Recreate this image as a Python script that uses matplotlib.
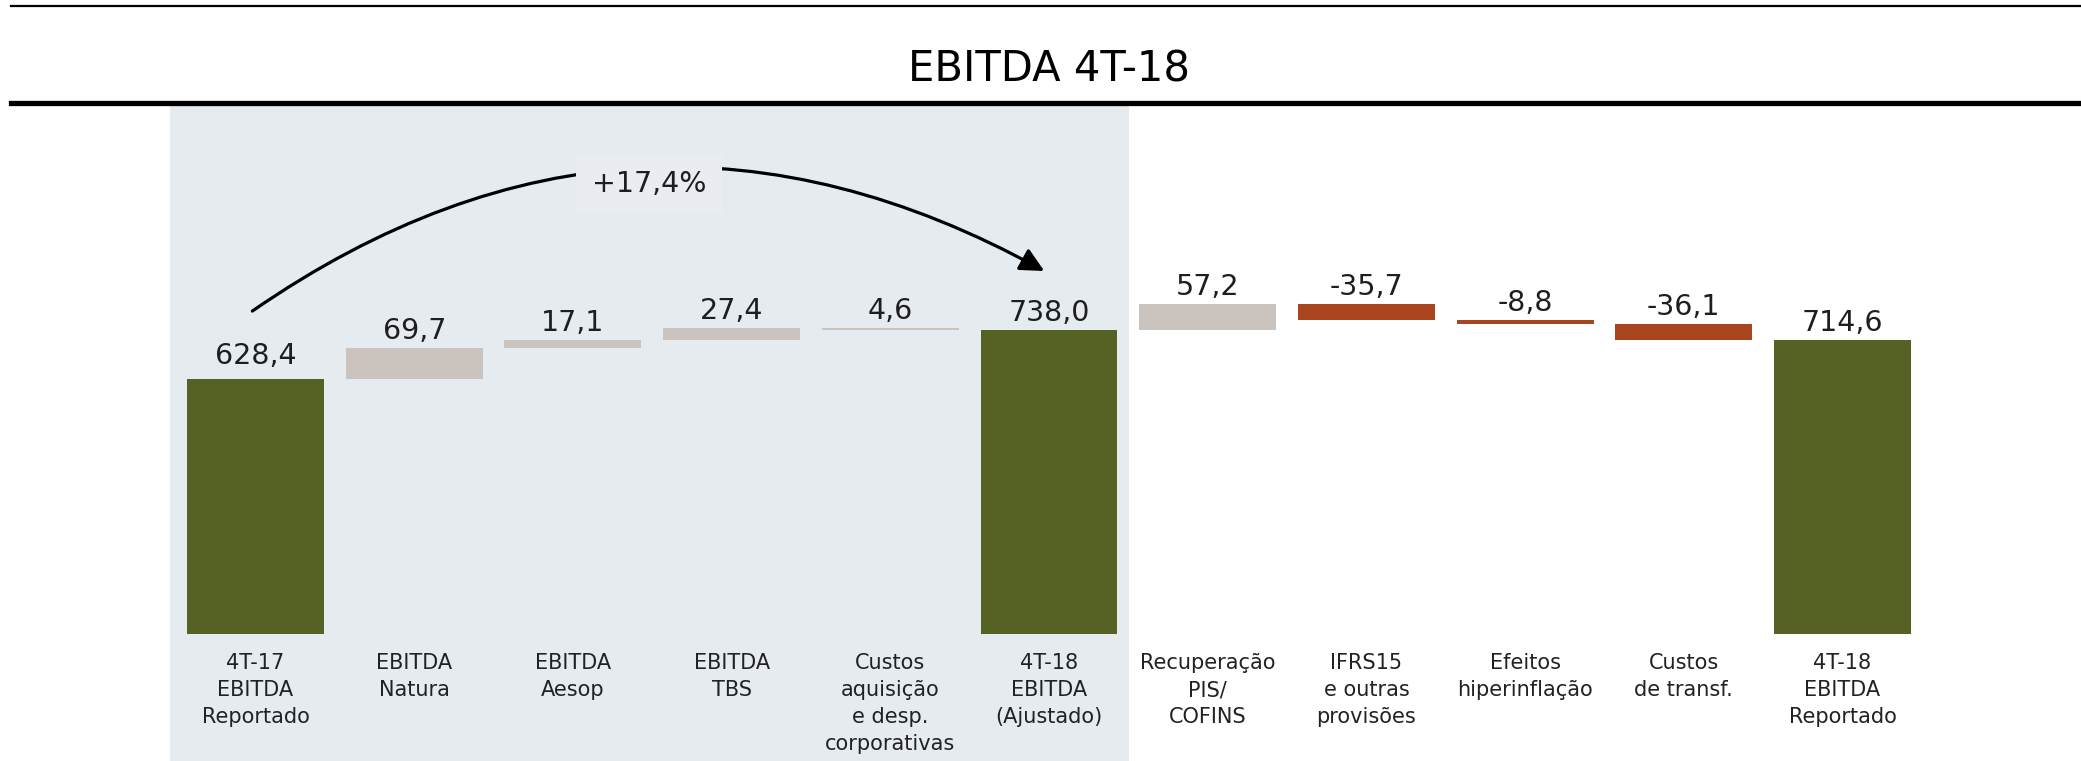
import matplotlib
matplotlib.use("Agg")
import matplotlib.pyplot as plt
from matplotlib.lines import Line2D
import numpy as np

# ---------------- data ----------------
title = "EBITDA 4T-18"
categories = [
    "4T-17\nEBITDA\nReportado",
    "EBITDA\nNatura",
    "EBITDA\nAesop",
    "EBITDA\nTBS",
    "Custos\naquisição\ne desp.\ncorporativas",
    "4T-18\nEBITDA\n(Ajustado)",
    "Recuperação\nPIS/\nCOFINS",
    "IFRS15\ne outras\nprovisões",
    "Efeitos\nhiperinflação",
    "Custos\nde transf.",
    "4T-18\nEBITDA\nReportado",
]
values = [628.4, 69.7, 17.1, 27.4, -4.6, 738.0, 57.2, -35.7, -8.8, -36.1, 714.6]
is_total = [True, False, False, False, False, True, False, False, False, False, True]
value_labels = ["628,4", "69,7", "17,1", "27,4", "4,6", "738,0",
                "57,2", "-35,7", "-8,8", "-36,1", "714,6"]
growth_label = "+17,4%"

# ---------------- style ----------------
GREEN = "#556224"
BEIGE = "#cbc3be"
RED = "#a9461f"
SHADE = "#e6ebf0"
bar_colors = [GREEN, BEIGE, BEIGE, BEIGE, BEIGE, GREEN,
              BEIGE, RED, RED, RED, GREEN]
label_gap_pt = [11, 6.5, 6.5, 6.5, 6.5, 6.5, 6.5, 6.5, 6.5, 6.5, 6.5]

W, H = 2081, 761
fig = plt.figure(figsize=(W / 100, H / 100), dpi=100)
fig.patch.set_facecolor("white")

# axes placement (pixel based)
pitch = 158.7
first_c = 255.5
xlim = (-0.6, 10.6)
ax_left_px = first_c + xlim[0] * pitch
ax_w_px = (xlim[1] - xlim[0]) * pitch
ax_bot_px = 634
ax_top_px = 160
ax = fig.add_axes([ax_left_px / W, (H - ax_bot_px) / H,
                   ax_w_px / W, (ax_bot_px - ax_top_px) / H])
ax.set_facecolor("none")

units_per_px = 2.237
ymin = 58.0
ymax = ymin + (ax_bot_px - ax_top_px) * units_per_px
ax.set_xlim(*xlim)
ax.set_ylim(ymin, ymax)

# ---------------- waterfall computation ----------------
x = np.arange(len(values))
bottoms, heights = [], []
running = 0.0
for v, tot in zip(values, is_total):
    if tot:
        bottoms.append(0.0)
        heights.append(v)
        running = v
    else:
        if v >= 0:
            bottoms.append(running)
            heights.append(v)
        else:
            bottoms.append(running + v)
            heights.append(-v)
        running += v

ax.bar(x, heights, bottom=bottoms, width=0.863, color=bar_colors,
       edgecolor="none", zorder=2)

for xi, b, h, lab, gap in zip(x, bottoms, heights, value_labels, label_gap_pt):
    ax.annotate(lab, xy=(xi, b + h), xytext=(0, gap),
                textcoords="offset points", ha="center", va="baseline",
                fontsize=20.5, color="#1e1e1e", zorder=4)

# shaded block behind the adjusted part
ax.axvspan(-0.539, 5.504,
           ymin=-(H - ax_bot_px) / (ax_bot_px - ax_top_px),
           ymax=(ax_bot_px - 106) / (ax_bot_px - ax_top_px),
           color=SHADE, zorder=0, clip_on=False, lw=0)

# growth arrow
start_y = values[0] + 152
end_y = values[5] + 132
ax.annotate("", xy=(5 - 0.03, end_y), xytext=(0 - 0.02, start_y),
            arrowprops=dict(arrowstyle="-|>,head_length=0.8,head_width=0.4",
                            connectionstyle="arc3,rad=-0.31",
                            color="black", lw=2.3, shrinkA=0, shrinkB=0,
                            mutation_scale=18),
            zorder=3)
ax.text(2.48, values[0] + (379 - 184) * units_per_px, growth_label,
        ha="center", va="center", fontsize=20.5, color="#1e1e1e", zorder=5,
        bbox=dict(boxstyle="square,pad=0.55", facecolor="#e9edf1",
                  edgecolor="none"))

# axes cosmetics
ax.set_xticks(x)
ax.set_xticklabels(categories, fontsize=15, color="#222222",
                   linespacing=1.42)
ax.tick_params(axis="x", length=0, pad=14)
ax.set_yticks([])
for s in ax.spines.values():
    s.set_visible(False)

# title and rules
fig.text(1049 / W, 1 - 69 / H, title, ha="center", va="center",
         fontsize=30, color="black")
fig.add_artist(Line2D([11 / W, 1], [1 - 6 / H, 1 - 6 / H],
                      transform=fig.transFigure, color="black", lw=1.6))
fig.add_artist(Line2D([11 / W, 1], [1 - 102.5 / H, 1 - 102.5 / H],
                      transform=fig.transFigure, color="black", lw=3.8))

fig.savefig("out.png", dpi=100)
